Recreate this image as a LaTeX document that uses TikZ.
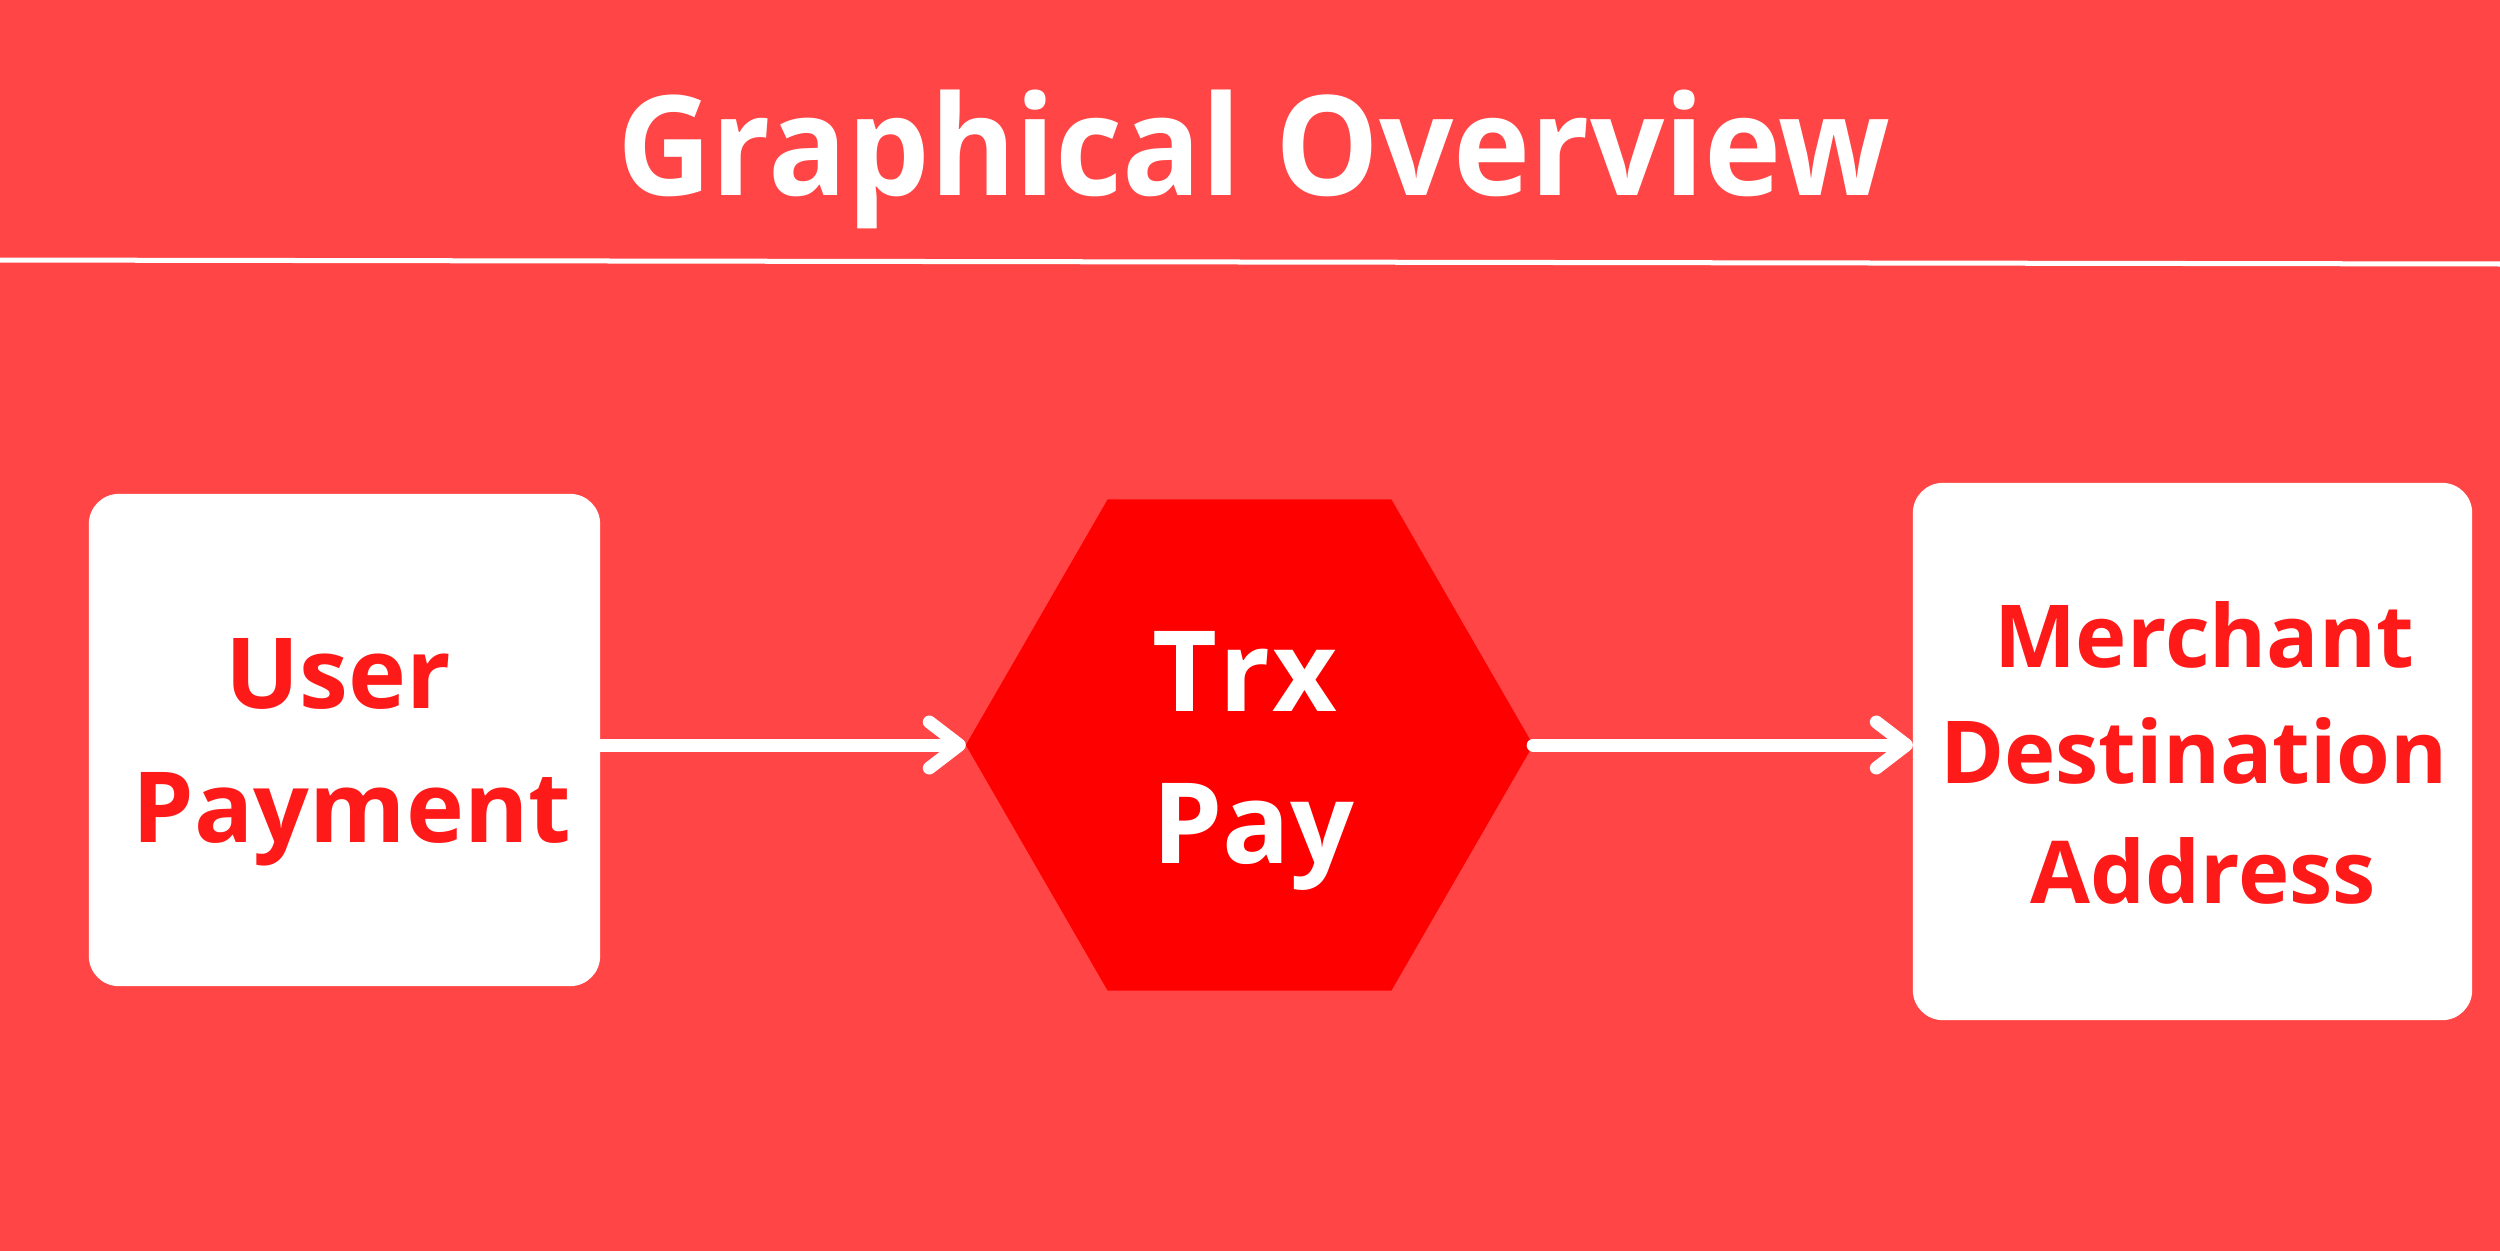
\documentclass[tikz,border=0pt]{standalone}
\usepackage{fontspec}
\setmainfont{Open Sans}
\usetikzlibrary{shapes.geometric,arrows.meta}
\definecolor{bg}{HTML}{FF4545}
\definecolor{hexred}{HTML}{FF0000}
\definecolor{txtred}{HTML}{FF1A1A}
\begin{document}
\begin{tikzpicture}[x=0.01cm,y=-0.01cm,
  box/.style={draw=none,fill=white,rounded corners=0.3cm,inner sep=0pt,outer sep=0pt},
  hexnode/.style={regular polygon,regular polygon sides=6,fill=hexred,draw=none,inner sep=0pt,outer sep=0pt,minimum size=5.67cm},
  boxtext/.style={text=txtred,anchor=base,inner sep=0pt,font=\bfseries\fontsize{27.9}{30}\selectfont},
  hextext/.style={text=white,anchor=base,inner sep=0pt,font=\bfseries\fontsize{31.9}{34}\selectfont},
  merchtext/.style={text=txtred,anchor=base,inner sep=0pt,font=\bfseries\fontsize{24.7}{27}\selectfont},
  conn/.style={draw=white,line width=0.13cm,line cap=round,line join=round,
    -{Straight Barb[length=0.3cm,width=0.46cm,round]}}]
\useasboundingbox (0,0) rectangle (2500,1250);
\fill[bg] (-20,-20) rectangle (2520,1270);
\draw[white,line width=0.05cm] (-10,260) -- (2510,264);
\node[text=white,anchor=base,inner sep=0pt,font=\bfseries\fontsize{39.5}{42}\selectfont] (title) at (1254,195) {\scalebox{0.94}[1]{Graphical Overview}};
\node[box,minimum width=5.11cm,minimum height=4.92cm] (user) at (344.5,740) {};
\node[hexnode] (hex) at (1249.5,745) {};
\node[box,minimum width=5.59cm,minimum height=5.37cm] (merch) at (2192.5,751.5) {};
\node[boxtext] (u1) at (338,708) {User};
\node[boxtext] (u2) at (352,842) {Payment};
\node[hextext] (t1) at (1245,711) {T\kern0.02em r\kern0.02em x};
\node[hextext] (t2) at (1253,863) {Pay};
\node[merchtext] (m1) at (2204,667) {Merchant};
\node[merchtext] (m2) at (2194,783) {Destination};
\node[merchtext] (m3) at (2203,903) {Address};
\draw[conn] (user.east |- hex.west) -- (hex.west);
\draw[conn] (hex.east) -- (merch.west |- hex.east);
\end{tikzpicture}
\end{document}
